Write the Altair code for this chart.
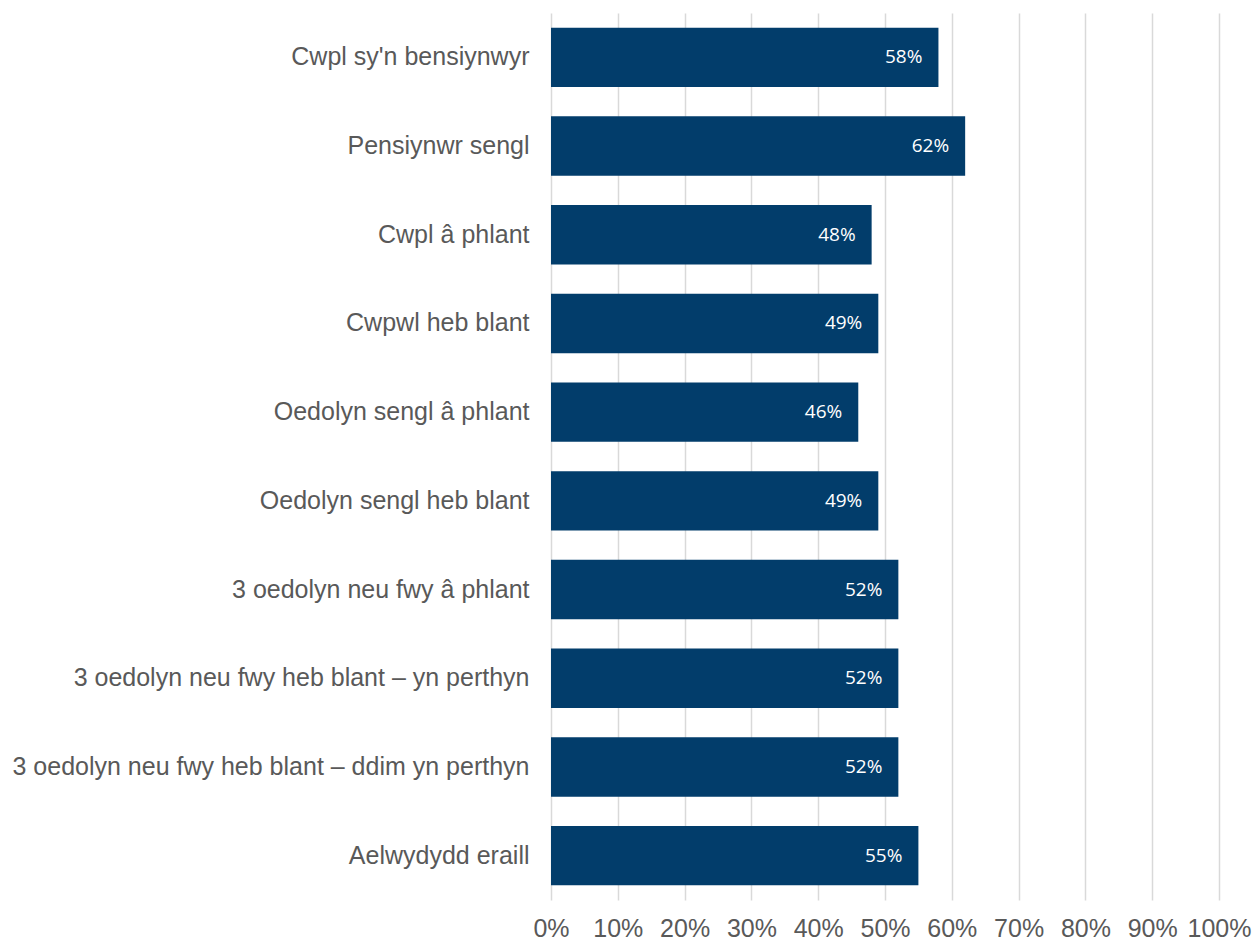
import altair as alt
import pandas as pd

categories = [
    "Cwpl sy'n bensiynwyr",
    "Pensiynwr sengl",
    "Cwpl â phlant",
    "Cwpwl heb blant",
    "Oedolyn sengl â phlant",
    "Oedolyn sengl heb blant",
    "3 oedolyn neu fwy â phlant",
    "3 oedolyn neu fwy heb blant – yn perthyn",
    "3 oedolyn neu fwy heb blant – ddim yn perthyn",
    "Aelwydydd eraill",
]
values = [0.58, 0.62, 0.48, 0.49, 0.46, 0.49, 0.52, 0.52, 0.52, 0.55]

df = pd.DataFrame({"cat": categories, "val": values})
df["label"] = [f"{round(v * 100)}%" for v in values]

y_enc = alt.Y(
    "cat:N",
    sort=categories,
    title=None,
    scale=alt.Scale(paddingInner=0.33, paddingOuter=0.165),
    axis=alt.Axis(
        labelFont="Liberation Sans",
        labelFontSize=25,
        labelColor="#595959",
        labelPadding=22,
        ticks=False,
        domain=False,
        grid=False,
        labelLimit=700,
    ),
)
x_enc = alt.X(
    "val:Q",
    title=None,
    scale=alt.Scale(domain=[0, 1], nice=False),
    axis=alt.Axis(
        format=".0%",
        values=[i / 10 for i in range(11)],
        labelFont="Liberation Sans",
        labelFontSize=25,
        labelColor="#595959",
        labelPadding=16,
        labelOverlap=False,
        labelFlush=False,
        ticks=False,
        domain=False,
        grid=True,
        gridColor="#d9d9d9",
        gridWidth=1.5,
    ),
)

bars = alt.Chart(df).mark_bar(color="#023D6B").encode(x=x_enc, y=y_enc)
text = alt.Chart(df).mark_text(
    align="right", baseline="middle", dx=-16, color="white",
    font="Open Sans", fontSize=19
).encode(x="val:Q", y=alt.Y("cat:N", sort=categories), text="label:N")

chart = (bars + text).properties(
    width=668,
    height=887,
    autosize=alt.AutoSizeParams(type="none"),
    padding={"left": 543, "top": 5, "right": 33, "bottom": 40},
).configure_view(stroke=None)

chart.save("out.html", embed_options={"renderer": "svg", "actions": False})
